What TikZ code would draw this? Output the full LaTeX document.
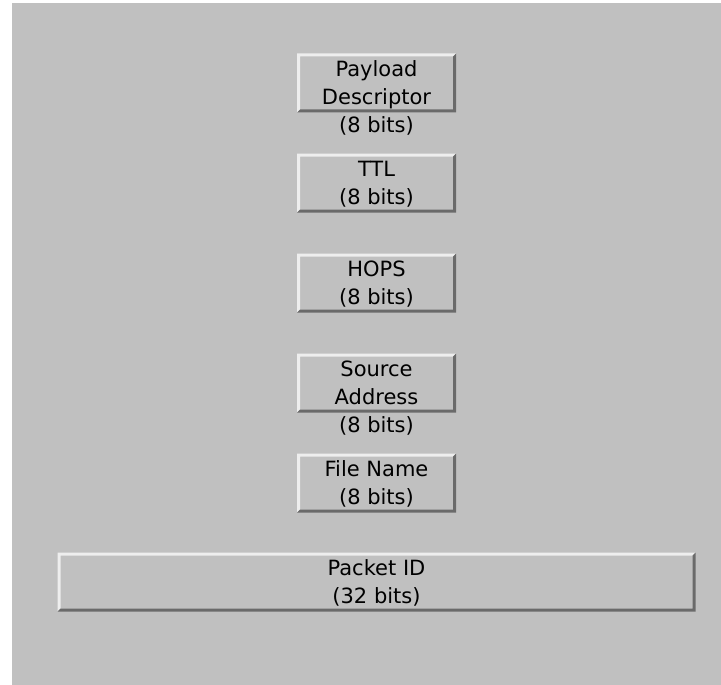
\documentclass[tikz,border=0pt]{standalone}
\usepackage{fontspec}
\setmainfont{DejaVu Sans}
\usetikzlibrary{positioning,calc}
\definecolor{panel}{HTML}{C0C0C0}
\definecolor{lit}{HTML}{EEEEEE}
\definecolor{dim}{HTML}{6A6A6A}
\tikzset{
  field/.style={fill=panel,minimum width=159pt,minimum height=59pt,
    inner sep=0pt,outer sep=0pt},
  widefield/.style={field,minimum width=638pt},
  caption/.style={font=\fontsize{21}{28}\selectfont,align=center,
    inner sep=0pt,anchor=north}
}
% raised look: light top/left, dark bottom/right
\newcommand{\bevel}[1]{%
  \fill[lit] (#1.south west) -- (#1.north west) -- (#1.north east)
    -- ([shift={(-3pt,-3pt)}]#1.north east) -- ([shift={(3pt,-3pt)}]#1.north west)
    -- ([shift={(3pt,3pt)}]#1.south west) -- cycle;
  \fill[dim] (#1.south west) -- (#1.south east) -- (#1.north east)
    -- ([shift={(-3pt,-3pt)}]#1.north east) -- ([shift={(-3pt,3pt)}]#1.south east)
    -- ([shift={(3pt,3pt)}]#1.south west) -- cycle;}

\begin{document}
\begin{tikzpicture}[node distance=41pt]
  \useasboundingbox (0,0) rectangle (721pt,-685pt);
  \fill[panel] (12pt,-3pt) rectangle (721pt,-685pt);

  \node[field] (desc) at (376.5pt,-83pt) {};
  \node[field,below=of desc] (ttl) {};
  \node[field,below=of ttl] (hops) {};
  \node[field,below=of hops] (src) {};
  \node[field,below=of src] (fname) {};
  \node[widefield,below=40pt of fname] (pid) {};

  \foreach \b in {desc,ttl,hops,src,fname,pid} {\bevel{\b}}

  \node[caption,below=7pt of desc.north] (desctxt) {Payload\\Descriptor\\(8 bits)};
  \node[caption,below=7pt of ttl.north] (ttltxt) {TTL\\(8 bits)};
  \node[caption,below=7pt of hops.north] (hopstxt) {HOPS\\(8 bits)};
  \node[caption,below=7pt of src.north] (srctxt) {Source\\Address\\(8 bits)};
  \node[caption,below=7pt of fname.north] (fnametxt) {File Name\\(8 bits)};
  \node[caption,below=7pt of pid.north] (pidtxt) {Packet ID\\(32 bits)};
\end{tikzpicture}
\end{document}
